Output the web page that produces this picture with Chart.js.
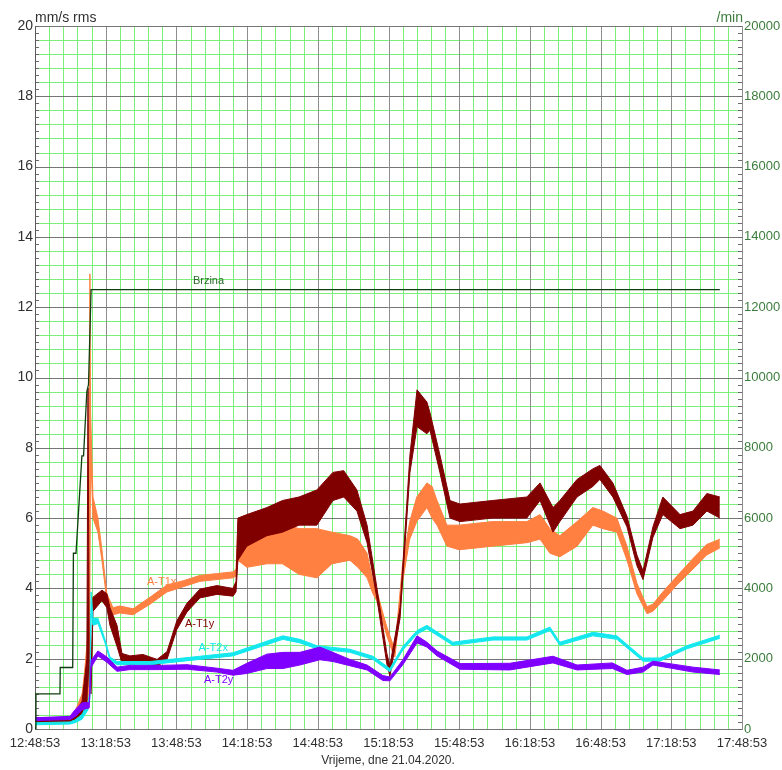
<!DOCTYPE html>
<html>
<head>
<meta charset="utf-8">
<title>Vibracije</title>
<script src="https://cdn.jsdelivr.net/npm/chart.js@4.4.0/dist/chart.umd.min.js"></script>
<style>
  html, body { margin: 0; padding: 0; background: #fff; }
  #wrap { width: 782px; height: 770px; }
</style>
</head>
<body>
<div id="wrap"><canvas id="vibChart" width="782" height="770"></canvas></div>
<script>
// x = minutes since 12:48:53, left axis mm/s rms, right axis /min
const timeLabels = ['12:48:53', '13:18:53', '13:48:53', '14:18:53', '14:48:53', '15:18:53',
  '15:48:53', '16:18:53', '16:48:53', '17:18:53', '17:48:53'];

const brzinaTime = [0, 0.4, 10.6, 10.7, 16.0, 16.3, 17.4, 19.9, 20.6, 22.0, 22.7, 23.8, 290.6];
const brzinaRpm = [0, 1000, 1000, 1750, 1750, 5000, 5000, 7770, 7770, 9600, 9800, 12500, 12500];

const t1xTime = [0, 14, 17, 20, 21, 22.8, 23.3, 23.6, 24.6, 26.7, 28.4, 30.5, 33.1, 36, 41.6, 48.8, 56, 63, 70, 77,
  84, 85.3, 86.1, 89.9, 98.4, 105, 112, 119.6, 126, 133.6, 137, 140.9, 143.4, 145, 147.6, 149.3, 151.9, 152.7, 154.9, 156,
  159, 162, 166.3, 168.5, 170.6, 174.8, 180, 194, 208.7, 214.3, 218.5, 222.7, 230, 236.7, 241, 246.9, 251.2, 255.4, 259.7, 262.2,
  266.4, 272.4, 279.2, 285, 290.6];
const t1xLow = [0.15, 0.15, 0.25, 0.4, 0.5, 0.8, 4.0, 8.0, 6.0, 5.6, 4.8, 3.65, 3.25, 3.3, 3.25, 3.55, 3.9, 4.05, 4.2, 4.25,
  4.3, 4.35, 4.8, 4.6, 4.7, 4.7, 4.4, 4.3, 4.7, 4.8, 4.6, 4.3, 3.85, 3.65, 3.05, 2.65, 2.15, 2.05, 3.4, 4.2,
  5.4, 5.9, 6.3, 6.0, 5.8, 5.2, 5.1, 5.2, 5.3, 5.4, 5.0, 4.9, 5.2, 5.8, 5.7, 5.6, 4.8, 3.85, 3.28, 3.35,
  3.65, 4.1, 4.55, 4.95, 5.15];
const t1xHigh = [0.3, 0.3, 0.5, 1.0, 1.6, 3.0, 12.95, 9.0, 6.6, 6.0, 5.1, 3.85, 3.45, 3.5, 3.42, 3.75, 4.1, 4.22, 4.37, 4.42,
  4.47, 4.55, 5.9, 5.9, 5.8, 5.85, 5.7, 5.7, 5.6, 5.5, 5.4, 5.0, 4.2, 3.95, 3.3, 2.9, 2.4, 2.3, 3.9, 4.7,
  5.9, 6.6, 7.0, 6.9, 6.5, 5.8, 5.8, 5.9, 5.9, 6.1, 5.7, 5.5, 5.9, 6.3, 6.2, 6.0, 5.2, 4.15, 3.48, 3.55,
  3.9, 4.35, 4.85, 5.25, 5.4];

const t1yTime = [0, 14.85, 17, 20, 22, 22.5, 23.0, 23.8, 24.6, 28.4, 30.5, 31.8, 34.8, 36.9, 40.3, 45.8, 51.8, 56, 60.2, 64.5,
  70, 77.2, 84, 85.3, 86.1, 89.9, 98.4, 105, 112, 119.6, 126.4, 131, 136.6, 140.9, 145, 149.3, 150.6, 154.9, 159.1, 162.1,
  166.3, 167.6, 171.8, 176.1, 180.3, 194, 208.7, 214.3, 219.8, 222.7, 230, 236.7, 239.7, 245.2, 251.2, 255.4, 258, 262.2, 266.4, 273.7,
  279.2, 285.1, 290.6];
const t1yLow = [0.2, 0.2, 0.25, 0.35, 0.6, 2.0, 1.2, 1.0, 3.35, 3.65, 3.45, 2.95, 2.35, 1.88, 1.83, 1.88, 1.78, 1.98, 2.83, 3.33,
  3.73, 3.83, 3.78, 3.9, 4.8, 5.2, 5.5, 5.6, 5.8, 5.8, 6.5, 6.6, 6.2, 5.3, 3.75, 1.85, 1.5, 3.15, 7.3, 8.6,
  8.4, 8.5, 7.3, 6.0, 5.9, 6.0, 6.0, 6.5, 5.6, 5.9, 6.6, 6.9, 7.1, 6.6, 5.75, 4.65, 4.25, 5.45, 6.1, 5.7,
  5.8, 6.2, 6.0];
const t1yHigh = [0.32, 0.32, 0.42, 0.8, 2.0, 9.7, 2.0, 1.5, 3.75, 3.95, 3.85, 3.45, 2.95, 2.15, 2.08, 2.12, 1.98, 2.2, 3.08, 3.58,
  3.98, 4.08, 4.0, 4.2, 6.0, 6.1, 6.3, 6.5, 6.6, 6.8, 7.3, 7.35, 6.8, 5.8, 4.05, 2.15, 1.8, 3.45, 7.8, 9.65,
  9.3, 9.0, 7.8, 6.5, 6.4, 6.5, 6.6, 7.0, 6.3, 6.5, 7.1, 7.4, 7.5, 7.0, 6.05, 4.95, 4.5, 5.75, 6.6, 6.1,
  6.2, 6.7, 6.6];

const t2xTime = [0, 14.85, 17, 20, 22.5, 23.3, 23.8, 24.6, 26.7, 29.7, 31.8, 34.8, 40.3, 48.8, 70, 84, 98.4, 105.2, 112.4, 119.6,
  133.6, 143.4, 150.6, 156.1, 162.1, 166.3, 177.3, 194.3, 208.7, 218.5, 222.7, 236.7, 246.9, 258, 265.2, 276.6, 290.6];
const t2xLow = [0.12, 0.14, 0.18, 0.28, 0.55, 0.9, 3.3, 2.95, 3.0, 2.45, 1.95, 1.83, 1.83, 1.83, 1.98, 2.08, 2.4, 2.55, 2.45, 2.28,
  2.18, 1.98, 1.63, 2.25, 2.7, 2.85, 2.38, 2.53, 2.53, 2.8, 2.38, 2.65, 2.55, 1.93, 1.93, 2.28, 2.58];
const t2xHigh = [0.18, 0.2, 0.26, 0.42, 0.75, 1.1, 3.9, 3.15, 3.15, 2.55, 2.05, 1.92, 1.92, 1.92, 2.07, 2.17, 2.5, 2.65, 2.55, 2.37,
  2.27, 2.07, 1.72, 2.35, 2.8, 2.95, 2.47, 2.62, 2.62, 2.9, 2.47, 2.75, 2.65, 2.02, 2.02, 2.37, 2.67];

const t2yTime = [0, 14.85, 17, 20, 23.0, 23.8, 26.7, 30.5, 34.8, 40.3, 53, 64.5, 77.2, 84, 89.9, 98.4, 105.2, 112.4, 120.9, 126.4,
  133.6, 140.9, 147.6, 150.6, 156.1, 162.1, 166.3, 170.6, 180.3, 201.5, 219.8, 230, 245, 251.2, 258, 262.2, 279.2, 290.6];
const t2yLow = [0.24, 0.27, 0.35, 0.55, 0.6, 1.75, 2.08, 1.9, 1.64, 1.69, 1.69, 1.7, 1.62, 1.53, 1.58, 1.72, 1.72, 1.82, 1.97, 1.92,
  1.8, 1.68, 1.38, 1.37, 1.83, 2.45, 2.33, 2.08, 1.7, 1.68, 1.88, 1.68, 1.72, 1.55, 1.62, 1.82, 1.62, 1.55];
const t2yHigh = [0.32, 0.36, 0.55, 0.75, 0.75, 1.95, 2.22, 2.05, 1.76, 1.81, 1.81, 1.83, 1.73, 1.67, 1.87, 2.13, 2.18, 2.18, 2.33, 2.18,
  1.98, 1.82, 1.52, 1.48, 1.97, 2.65, 2.47, 2.22, 1.86, 1.87, 2.07, 1.82, 1.88, 1.67, 1.76, 1.93, 1.76, 1.68];

const FONT = "'Liberation Sans', Arial, sans-serif";
const GRID_MINOR = '#7af07a';
const GRID_MAJOR_V = '#8e8e8e';
const GRID_MAJOR_H = '#767676';
const COL_T1X = '#ff8040';
const COL_T1Y = '#800000';
const COL_T2X = '#14e8ee';
const COL_T2Y = '#8000ff';
const COL_BRZINA = '#0e3e0e';
const COL_RIGHT = '#3c7c3c';

function pts(times, vals) {
  return times.map((t, i) => ({ x: t, y: vals[i] }));
}

function band(name, times, low, high, color, loIndex) {
  return [
    { label: name + ' lo', data: pts(times, low), borderColor: color, borderWidth: 1, fill: false },
    { label: name, data: pts(times, high), borderColor: color, borderWidth: 1,
      backgroundColor: color, fill: { target: loIndex } }
  ];
}

// text placed at data coordinates
const seriesTags = [
  { text: 'A-T1x', t: 47.5, v: 4.18, axis: 'y', color: COL_T1X },
  { text: 'A-T1y', t: 63.6, v: 2.99, axis: 'y', color: COL_T1Y },
  { text: 'A-T2x', t: 69.4, v: 2.3, axis: 'y', color: COL_T2X },
  { text: 'A-T2y', t: 71.7, v: 1.39, axis: 'y', color: COL_T2Y },
  { text: 'Brzina', t: 67, v: 12760, axis: 'y1', color: '#2a6a2a' }
];

function crisp(p) {
  return Math.round(p) + 0.5;
}

// paper-style grid: minor green lines, grey majors, small inner ticks
const gridPlugin = {
  id: 'paperGrid',
  beforeDatasetsDraw(chart) {
    const { ctx, chartArea: a, scales } = chart;
    const xs = scales.x, ys = scales.y, yr = scales.y1;
    ctx.save();
    ctx.lineWidth = 1;
    const line = (x1, y1, x2, y2, color) => {
      ctx.strokeStyle = color;
      ctx.beginPath();
      ctx.moveTo(x1, y1);
      ctx.lineTo(x2, y2);
      ctx.stroke();
    };
    xs.ticks.forEach(tk => {
      if (tk.value % 30 !== 0) {
        const px = crisp(xs.getPixelForValue(tk.value));
        line(px, a.top, px, a.bottom, GRID_MINOR);
      }
    });
    ys.ticks.forEach(tk => {
      const k = Math.round(tk.value * 10);
      if (k % 4 === 0 && k % 20 !== 0) {
        const py = crisp(ys.getPixelForValue(tk.value));
        line(a.left, py, a.right, py, GRID_MINOR);
      }
    });
    xs.ticks.forEach(tk => {
      if (tk.value % 30 === 0) {
        const px = crisp(xs.getPixelForValue(tk.value));
        line(px, a.top, px, a.bottom, GRID_MAJOR_V);
      }
    });
    ys.ticks.forEach(tk => {
      const k = Math.round(tk.value * 10);
      const py = crisp(ys.getPixelForValue(tk.value));
      if (k % 20 === 0) {
        line(a.left, py, a.right, py, GRID_MAJOR_H);
      }
      line(a.left, py, a.left + 4, py, '#6a6a6a');
    });
    yr.ticks.forEach(tk => {
      const py = crisp(yr.getPixelForValue(tk.value));
      line(a.right - 4, py, a.right, py, '#6a6a6a');
    });
    const lx = crisp(a.left), rx = crisp(a.right);
    line(lx, a.top, lx, a.bottom + 1, '#5a5a5a');
    line(rx, a.top, rx, a.bottom + 1, GRID_MAJOR_V);
    ctx.restore();
  }
};

const textPlugin = {
  id: 'chartTexts',
  afterDatasetsDraw(chart) {
    const ctx = chart.ctx;
    const xs = chart.scales.x;
    ctx.save();
    ctx.font = '11px ' + FONT;
    ctx.textAlign = 'left';
    ctx.textBaseline = 'middle';
    seriesTags.forEach(tag => {
      ctx.fillStyle = tag.color;
      ctx.fillText(tag.text, xs.getPixelForValue(tag.t), chart.scales[tag.axis].getPixelForValue(tag.v));
    });
    ctx.restore();
  },
  afterDraw(chart) {
    const ctx = chart.ctx;
    const area = chart.chartArea;
    ctx.save();
    ctx.textBaseline = 'alphabetic';
    ctx.font = '14px ' + FONT;
    ctx.fillStyle = '#303030';
    ctx.textAlign = 'left';
    ctx.fillText('mm/s rms', area.left, area.top - 4);
    ctx.fillStyle = COL_RIGHT;
    ctx.textAlign = 'right';
    ctx.fillText('/min', area.right + 1, area.top - 4);
    ctx.font = '12px ' + FONT;
    ctx.fillStyle = '#303030';
    ctx.textAlign = 'center';
    ctx.fillText('Vrijeme, dne 21.04.2020.', 388, area.bottom + 35);
    ctx.restore();
  }
};

const datasets = [
  { label: 'Brzina', data: pts(brzinaTime, brzinaRpm), yAxisID: 'y1', borderColor: COL_BRZINA, borderWidth: 1.3, fill: false },
  ...band('A-T2y', t2yTime, t2yLow, t2yHigh, COL_T2Y, 1),
  ...band('A-T2x', t2xTime, t2xLow, t2xHigh, COL_T2X, 3),
  ...band('A-T1y', t1yTime, t1yLow, t1yHigh, COL_T1Y, 5),
  ...band('A-T1x', t1xTime, t1xLow, t1xHigh, COL_T1X, 7)
];

const ctx = document.getElementById('vibChart').getContext('2d');
new Chart(ctx, {
  type: 'line',
  data: { datasets: datasets },
  options: {
    responsive: false,
    animation: false,
    devicePixelRatio: 1,
    layout: { padding: { top: 26, left: 0, right: 0, bottom: 0 } },
    elements: { point: { radius: 0 }, line: { tension: 0 } },
    plugins: { legend: { display: false }, tooltip: { enabled: false } },
    scales: {
      x: {
        type: 'linear',
        min: 0,
        max: 300,
        afterFit: s => { s.height = 41; },
        grid: { display: false, drawTicks: false },
        border: { display: true, color: GRID_MAJOR_H },
        ticks: {
          stepSize: 6,
          autoSkip: false,
          maxRotation: 0,
          padding: 7,
          color: '#303030',
          font: { family: FONT, size: 13 },
          callback: v => (v % 30 === 0 ? timeLabels[v / 30] : '')
        }
      },
      y: {
        position: 'left',
        min: 0,
        max: 20,
        afterFit: s => { s.width = 35; },
        grid: { display: false, drawTicks: false },
        border: { display: false },
        ticks: {
          stepSize: 0.2,
          autoSkip: false,
          padding: 2,
          color: '#303030',
          font: { family: FONT, size: 14 },
          callback: v => (Math.round(v * 10) % 20 === 0 ? String(Math.round(v)) : '')
        }
      },
      y1: {
        position: 'right',
        min: 0,
        max: 20000,
        afterFit: s => { s.width = 40; },
        grid: { display: false, drawTicks: false },
        border: { display: false },
        ticks: {
          stepSize: 200,
          autoSkip: false,
          padding: 2,
          color: COL_RIGHT,
          font: { family: FONT, size: 13 },
          callback: v => (v % 2000 === 0 ? String(v) : '')
        }
      }
    }
  },
  plugins: [gridPlugin, textPlugin]
});
</script>
</body>
</html>
